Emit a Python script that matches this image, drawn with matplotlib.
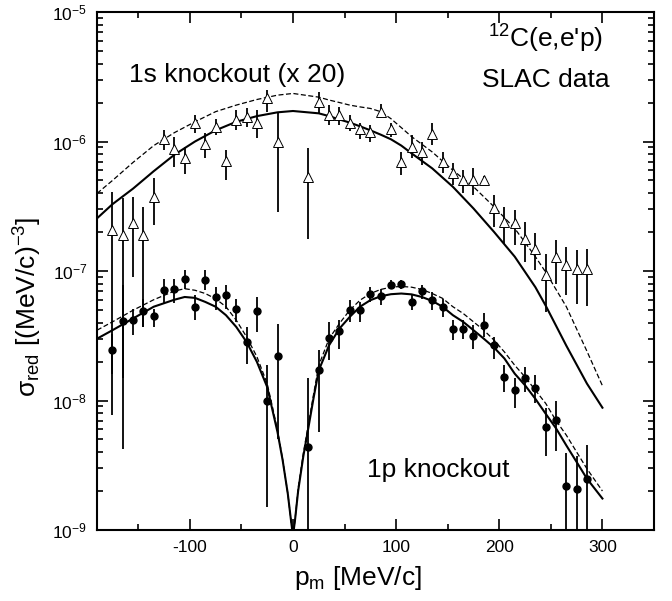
import numpy as np
import matplotlib
matplotlib.use("Agg")
import matplotlib.pyplot as plt
from matplotlib.ticker import MultipleLocator, LogLocator, NullFormatter

plt.rcParams['font.family'] = ['Liberation Sans', 'DejaVu Sans']
plt.rcParams['mathtext.fontset'] = 'custom'
plt.rcParams['mathtext.rm'] = 'Liberation Sans'
plt.rcParams['mathtext.it'] = 'Liberation Sans:italic'
plt.rcParams['mathtext.default'] = 'regular'
plt.rcParams['axes.unicode_minus'] = False

# ---------------- data: 1s knockout (x 20), open triangles ----------------
s_x = [-175, -165, -155, -145, -135, -125, -115, -105, -95, -85, -75, -65, -55, -45, -35, -25, -15,
       15, 25, 35, 45, 55, 65, 75, 85, 95, 105, 115, 125, 135, 145, 155, 165, 175, 185, 195,
       205, 215, 225, 235, 245, 255, 265, 275, 285]
s_y = [2.07e-7, 1.89e-7, 2.35e-7, 1.89e-7, 3.74e-7, 1.04e-6, 8.7e-7, 7.4e-7, 1.4e-6, 9.5e-7, 1.29e-6,
       7.1e-7, 1.46e-6, 1.55e-6, 1.4e-6, 2.15e-6, 9.95e-7,
       5.34e-7, 2.03e-6, 1.6e-6, 1.6e-6, 1.38e-6, 1.24e-6, 1.19e-6, 1.7e-6, 1.24e-6, 6.97e-7, 9.1e-7,
       8.3e-7, 1.15e-6, 6.97e-7, 5.67e-7, 5.03e-7, 5.03e-7, 5.03e-7, 3.04e-7, 2.4e-7, 2.33e-7,
       1.78e-7, 1.49e-7, 9.3e-8, 1.29e-7, 1.11e-7, 1.03e-7, 1.03e-7]
s_lo = [7.7e-9, 1.5e-8, 9.0e-8, 3.7e-8, 2.26e-7, 8.6e-7, 6.3e-7, 5.6e-7, 1.16e-6, 7.4e-7, 1.12e-6,
        5.03e-7, 1.22e-6, 1.3e-6, 1.06e-6, 1.7e-6, 2.86e-7,
        1.78e-7, 1.65e-6, 1.35e-6, 1.35e-6, 1.2e-6, 1.05e-6, 1.0e-6, 1.51e-6, 1.08e-6, 5.5e-7, 7.4e-7,
        6.6e-7, 9.4e-7, 5.67e-7, 4.6e-7, 3.97e-7, 3.85e-7, 4.7e-7, 2.19e-7, 1.63e-7, 1.58e-7,
        1.18e-7, 1.01e-7, 4.83e-8, 8.0e-8, 6.5e-8, 5.6e-8, 5.4e-8]
s_hi = [4.1e-7, 3.63e-7, 3.74e-7, 3.13e-7, 5.19e-7, 1.22e-6, 1.09e-6, 9.1e-7, 1.6e-6, 1.16e-6, 1.5e-6,
        8.6e-7, 1.75e-6, 1.8e-6, 1.75e-6, 2.5e-6, 1.65e-6,
        8.85e-7, 2.42e-6, 1.9e-6, 1.85e-6, 1.6e-6, 1.4e-6, 1.35e-6, 1.95e-6, 1.38e-6, 8.3e-7, 1.12e-6,
        9.95e-7, 1.38e-6, 8.3e-7, 6.8e-7, 6.0e-7, 6.2e-7, 5.4e-7, 3.85e-7, 3.13e-7, 2.95e-7,
        2.4e-7, 1.95e-7, 1.36e-7, 1.73e-7, 1.53e-7, 1.45e-7, 1.49e-7]

# ---------------- data: 1p knockout, filled circles ----------------
p_x = s_x
p_y = [2.44e-8, 4.09e-8, 4.22e-8, 4.89e-8, 4.5e-8, 7.1e-8, 7.3e-8, 8.75e-8, 5.3e-8, 8.5e-8, 6.3e-8,
       6.5e-8, 5.07e-8, 2.83e-8, 4.89e-8, 1.0e-8, 2.2e-8,
       4.37e-9, 1.71e-8, 3.06e-8, 3.43e-8, 5.04e-8, 5.04e-8, 6.62e-8, 6.38e-8, 7.86e-8, 8.0e-8, 5.77e-8,
       6.98e-8, 5.95e-8, 5.28e-8, 3.59e-8, 3.59e-8, 3.13e-8, 3.85e-8, 2.67e-8, 1.52e-8, 1.2e-8,
       1.48e-8, 1.25e-8, 6.24e-9, 7.03e-9, 2.19e-9, 2.08e-9, 2.49e-9]
p_lo = [1.61e-8, 4.25e-9, 3.19e-8, 3.7e-8, 3.7e-8, 5.6e-8, 5.7e-8, 7.3e-8, 4.17e-8, 7.1e-8, 4.98e-8,
        5.1e-8, 4.05e-8, 1.93e-8, 3.39e-8, 1.5e-9, 5.08e-9,
        5e-10, 5.7e-9, 2.05e-8, 2.5e-8, 4.05e-8, 4.05e-8, 5.8e-8, 5.45e-8, 7.3e-8, 7.3e-8, 4.98e-8,
        6.1e-8, 4.98e-8, 4.42e-8, 2.92e-8, 3.0e-8, 2.5e-8, 3.1e-8, 2.11e-8, 1.16e-8, 8.8e-9,
        1.16e-8, 9.5e-9, 3.7e-9, 4.1e-9, 5e-10, 5e-10, 5e-10]
p_hi = [3.29e-8, 7.8e-8, 5.1e-8, 6.1e-8, 5.1e-8, 8.75e-8, 8.75e-8, 1.01e-7, 6.5e-8, 1.01e-7, 7.5e-8,
        7.8e-8, 6.1e-8, 3.7e-8, 6.3e-8, 1.87e-8, 3.93e-8,
        1.48e-8, 2.44e-8, 4.05e-8, 4.17e-8, 5.95e-8, 5.77e-8, 7.5e-8, 7.3e-8, 8.5e-8, 8.5e-8, 6.5e-8,
        7.8e-8, 6.9e-8, 6.1e-8, 4.17e-8, 4.2e-8, 3.8e-8, 4.7e-8, 3.1e-8, 1.87e-8, 1.48e-8,
        1.81e-8, 1.57e-8, 8.8e-9, 1.0e-8, 3.93e-9, 3.7e-9, 4.5e-9]

# ---------------- theory curves ----------------
c1s_x = [-190, -175, -155, -135, -115, -95, -75, -55, -35, -15, 0, 25, 35, 45, 55, 65, 75, 85, 95,
         105, 115, 135, 155, 175, 195, 215, 235, 245, 265, 285, 300]
c1s_solid = [2.55e-7, 3.28e-7, 4.33e-7, 5.9e-7, 7.9e-7, 1.0e-6, 1.22e-6, 1.42e-6, 1.57e-6, 1.68e-6,
             1.72e-6, 1.65e-6, 1.57e-6, 1.48e-6, 1.4e-6, 1.31e-6, 1.22e-6, 1.13e-6, 1.04e-6, 9.3e-7,
             8.1e-7, 6.2e-7, 4.47e-7, 3.04e-7, 2.0e-7, 1.29e-7, 7.5e-8, 5.4e-8, 2.65e-8, 1.35e-8,
             8.8e-9]
c1s_dash = [3.97e-7, 5.0e-7, 6.9e-7, 9.3e-7, 1.17e-6, 1.42e-6, 1.7e-6, 1.91e-6, 2.11e-6, 2.28e-6,
            2.35e-6, 2.2e-6, 2.09e-6, 2.0e-6, 1.91e-6, 1.85e-6, 1.8e-6, 1.7e-6, 1.5e-6, 1.28e-6,
            1.09e-6, 8.3e-7, 6.0e-7, 4.47e-7, 3.13e-7, 2.13e-7, 1.29e-7, 9.8e-8, 5.3e-8, 2.4e-8,
            1.3e-8]

c1p_x = [-190, -175, -155, -135, -115, -105, -95, -85, -75, -65, -55, -45, -35, -25, -20, -15, -10, -5,
         -2, 0, 2, 5, 10, 15, 20, 25, 35, 45, 55, 65, 75, 85, 95, 105, 115, 125, 135, 145, 155, 165,
         175, 185, 195, 205, 215, 225, 235, 245, 255, 265, 275, 285, 300]
c1p_solid = [3.0e-8, 3.49e-8, 4.3e-8, 5.3e-8, 6.0e-8, 6.3e-8, 6.2e-8, 5.77e-8, 5.3e-8, 4.56e-8, 3.7e-8,
             2.83e-8, 1.99e-8, 1.27e-8, 8.5e-9, 5.7e-9, 3.45e-9, 1.9e-9, 1.2e-9, 9.0e-10, 1.2e-9, 2.0e-9,
             3.7e-9, 6.2e-9, 1.05e-8, 1.71e-8, 2.67e-8, 3.59e-8, 4.42e-8, 5.3e-8, 5.95e-8, 6.38e-8,
             6.62e-8, 6.7e-8, 6.6e-8, 6.3e-8, 5.87e-8, 5.3e-8, 4.56e-8, 4.05e-8, 3.49e-8, 3.0e-8,
             2.56e-8, 2.11e-8, 1.61e-8, 1.31e-8, 1.03e-8, 7.9e-9, 6.1e-9, 4.5e-9, 3.35e-9, 2.49e-9,
             1.75e-9]
c1p_dash = [3.49e-8, 4.05e-8, 4.98e-8, 6.0e-8, 7.0e-8, 7.3e-8, 7.1e-8, 6.7e-8, 6.1e-8, 5.3e-8, 4.17e-8,
            3.1e-8, 2.18e-8, 1.35e-8, 9.0e-9, 5.9e-9, 3.5e-9, 1.9e-9, 1.2e-9, 9.0e-10, 1.2e-9, 2.1e-9,
            3.9e-9, 6.6e-9, 1.12e-8, 1.87e-8, 3.0e-8, 3.93e-8, 4.98e-8, 5.95e-8, 6.7e-8, 7.2e-8,
            7.5e-8, 7.6e-8, 7.5e-8, 7.2e-8, 6.7e-8, 6.15e-8, 5.3e-8, 4.7e-8, 4.05e-8, 3.49e-8,
            2.92e-8, 2.37e-8, 1.87e-8, 1.52e-8, 1.2e-8, 9.5e-9, 7.0e-9, 5.4e-9, 4.0e-9, 2.97e-9,
            2.0e-9]

x_ticks = [-100, 0, 100, 200, 300]

# ---------------- figure ----------------
fig = plt.figure(figsize=(6.72, 6.01), dpi=100)
ax = fig.add_axes([97 / 672, 1 - 530 / 601, 557 / 672, 518 / 601])
ax.set_yscale('log')
ax.set_xlim(-190, 350)
ax.set_ylim(1e-9, 1e-5)

ax.plot(c1s_x, c1s_solid, color='black', lw=1.5, zorder=2)
ax.plot(c1s_x, c1s_dash, color='black', lw=0.9, dashes=(4, 2), zorder=2)
ax.plot(c1p_x, c1p_solid, color='black', lw=1.5, zorder=2)
ax.plot(c1p_x, c1p_dash, color='black', lw=0.9, dashes=(4, 2), zorder=2)

s_y_a = np.array(s_y)
ax.errorbar(s_x, s_y, yerr=[s_y_a - np.array(s_lo), np.array(s_hi) - s_y_a], fmt='^',
            mfc='white', mec='black', mew=0.7, ms=7, ecolor='black', elinewidth=1.3,
            capsize=0, zorder=3)
p_y_a = np.array(p_y)
ax.errorbar(p_x, p_y, yerr=[p_y_a - np.array(p_lo), np.array(p_hi) - p_y_a], fmt='o',
            mfc='black', mec='black', ms=5, ecolor='black', elinewidth=1.3,
            capsize=0, zorder=3)

ax.set_xticks(x_ticks)
ax.xaxis.set_minor_locator(MultipleLocator(50))
ax.yaxis.set_major_locator(LogLocator(base=10, numticks=10))
ax.yaxis.set_minor_locator(LogLocator(base=10, subs=np.arange(2, 10), numticks=50))
ax.yaxis.set_minor_formatter(NullFormatter())
ax.tick_params(which='both', direction='in', top=True, right=True, width=1.2, labelsize=12.5)
ax.tick_params(which='major', length=8, pad=7)
ax.tick_params(which='minor', length=4.5)
for sp in ax.spines.values():
    sp.set_linewidth(1.5)

ax.set_xlabel('p$_m$ [MeV/c]', fontsize=19)
ax.xaxis.set_label_coords(0.4677, -0.066)
ax.set_ylabel('σ$_{red}$ [(MeV/c)$^{-3}$]', fontsize=19)
ax.yaxis.set_label_coords(-0.095, 0.43)

ax.text(0.0575, 0.878, '1s knockout (x 20)', transform=ax.transAxes, fontsize=19,
        ha='left', va='center')
ax.text(0.484, 0.116, '1p knockout', transform=ax.transAxes, fontsize=19,
        ha='left', va='center')
ax.text(0.805, 0.948, '$^{12}$C(e,e\'p)', transform=ax.transAxes, fontsize=19,
        ha='center', va='center')
ax.text(0.806, 0.869, 'SLAC data', transform=ax.transAxes, fontsize=19,
        ha='center', va='center')

fig.savefig('out.png', dpi=100)
